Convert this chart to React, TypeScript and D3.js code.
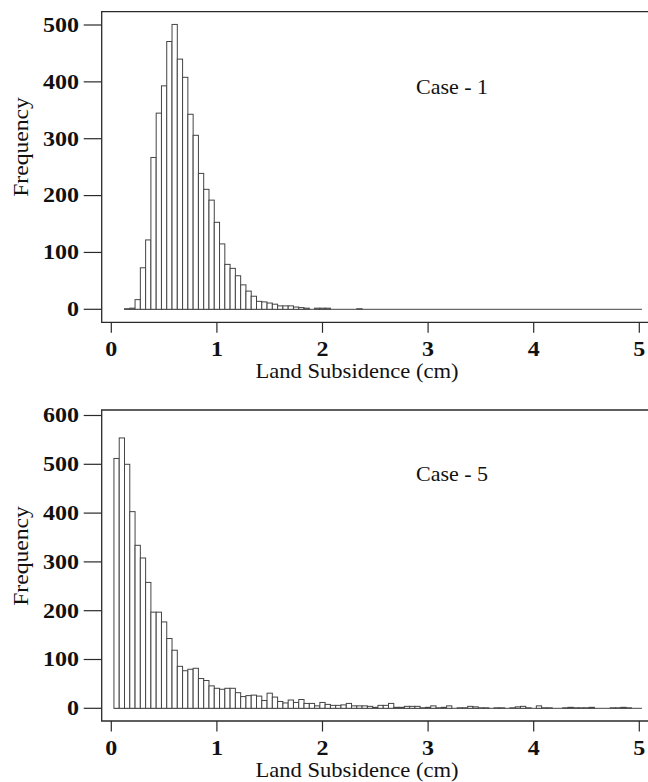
import React, { useEffect, useRef } from 'react';
import * as d3 from 'd3';

// histogram bins are 0.05 cm wide
const binWidth = 0.05;

// Case - 1: first bin starts at 0.125 cm
const case1Start = 0.125;
const case1Counts = [
  1, 2, 17, 73, 122, 267, 345, 393, 471, 501,
  440, 408, 343, 306, 239, 211, 192, 153, 115, 79,
  72, 59, 43, 32, 23, 14, 13, 11, 9, 6,
  6, 6, 4, 3, 2, 0, 2, 2, 2, 0,
  0, 0, 0, 0, 1, 0, 0, 0, 0, 0,
  0, 0, 0, 0, 0, 0, 0, 0, 0, 0,
  0, 0, 0, 0, 0, 0, 0, 0, 0, 0,
  0, 0, 0, 0, 0, 0, 0, 0, 0, 0,
  0, 0, 0, 0, 0, 0, 0, 0, 0, 0,
  0, 0, 0, 0, 0, 0, 0, 0,
];

// Case - 5: first bin starts at 0.025 cm
const case5Start = 0.025;
const case5Counts = [
  512, 554, 500, 403, 334, 308, 258, 197, 197, 177,
  143, 119, 86, 77, 80, 82, 61, 57, 46, 41,
  39, 41, 41, 32, 24, 26, 27, 25, 16, 31,
  23, 14, 11, 17, 12, 18, 10, 10, 5, 12,
  8, 6, 6, 7, 10, 5, 5, 5, 4, 2,
  6, 6, 10, 2, 2, 4, 4, 4, 1, 2,
  5, 1, 2, 5, 0, 1, 1, 4, 3, 1,
  1, 0, 1, 1, 0, 1, 3, 4, 1, 0,
  5, 1, 1, 0, 0, 1, 2, 1, 1, 1,
  2, 0, 0, 0, 1, 1, 2, 1, 0, 0,
];

const xTicks = [0, 1, 2, 3, 4, 5];
const case1YTicks = [0, 100, 200, 300, 400, 500];
const case5YTicks = [0, 100, 200, 300, 400, 500, 600];

const xTitle = 'Land Subsidence (cm)';
const yTitle = 'Frequency';

function App() {
  const svgRef = useRef<SVGSVGElement>(null);

  useEffect(() => {
    const svg = d3.select(svgRef.current);
    svg.selectAll('*').remove();

    const width = 648;
    const height = 782;
    svg.attr('width', width).attr('height', height);

    const font = '"Liberation Serif", "Times New Roman", serif';
    const ink = '#2a2a2a';
    const left = 101.7;

    const x = d3.scaleLinear().domain([0, 5]).range([111.3, 639.3]);

    const panels = [
      {
        label: 'Case - 1', counts: case1Counts, start: case1Start, ticks: case1YTicks,
        top: 11.7, axisY: 322.3, labelY: 94, freqY: 147,
        y: d3.scaleLinear().domain([0, 500]).range([309.3, 25]),
      },
      {
        label: 'Case - 5', counts: case5Counts, start: case5Start, ticks: case5YTicks,
        top: 410, axisY: 721, labelY: 481, freqY: 556,
        y: d3.scaleLinear().domain([0, 600]).range([708.3, 415.5]),
      },
    ];

    panels.forEach(p => {
      const g = svg.append('g');
      const y = p.y;
      const bins = p.counts.map((c, i) => ({
        x0: p.start + i * binWidth,
        x1: p.start + (i + 1) * binWidth,
        c,
      }));

      // zero-count bins show up as the base line
      g.append('line')
        .attr('x1', x(bins[0].x0)).attr('x2', x(bins[bins.length - 1].x1))
        .attr('y1', y(0)).attr('y2', y(0))
        .attr('stroke', '#444').attr('stroke-width', 1);

      g.selectAll('rect.bar')
        .data(bins.filter(b => b.c > 0))
        .join('rect')
        .attr('class', 'bar')
        .attr('x', d => x(d.x0))
        .attr('width', d => x(d.x1) - x(d.x0))
        .attr('y', d => y(d.c))
        .attr('height', d => y(0) - y(d.c))
        .attr('fill', 'white')
        .attr('stroke', '#444')
        .attr('stroke-width', 1);

      // frame: top, left, bottom
      g.append('path')
        .attr('d', `M${width},${p.top}H${left}V${p.axisY}H${width}`)
        .attr('fill', 'none')
        .attr('stroke', ink)
        .attr('stroke-width', 1.3);

      // y ticks
      p.ticks.forEach(t => {
        g.append('line')
          .attr('x1', left - 18).attr('x2', left)
          .attr('y1', y(t)).attr('y2', y(t))
          .attr('stroke', ink).attr('stroke-width', 1.2);
        g.append('text')
          .attr('transform', `translate(79,${y(t) + 6.8}) scale(1.2,1)`)
          .attr('text-anchor', 'end')
          .attr('font-family', font)
          .attr('font-size', 20)
          .attr('font-weight', 'bold')
          .attr('fill', '#111')
          .text(t);
      });

      // x ticks
      xTicks.forEach(t => {
        g.append('line')
          .attr('x1', x(t)).attr('x2', x(t))
          .attr('y1', p.axisY).attr('y2', p.axisY + 10.5)
          .attr('stroke', ink).attr('stroke-width', 1.2);
        g.append('text')
          .attr('transform', `translate(${x(t)},${p.axisY + 34}) scale(1.2,1)`)
          .attr('text-anchor', 'middle')
          .attr('font-family', font)
          .attr('font-size', 20)
          .attr('font-weight', 'bold')
          .attr('fill', '#111')
          .text(t);
      });

      g.append('text')
        .attr('transform', `translate(357,${p.axisY + 55.5}) scale(1.13,1)`)
        .attr('text-anchor', 'middle')
        .attr('font-family', font)
        .attr('font-size', 20)
        .attr('fill', '#111')
        .text(xTitle);

      g.append('text')
        .attr('transform', `translate(28,${p.freqY}) rotate(-90) scale(1.18,1)`)
        .attr('text-anchor', 'middle')
        .attr('font-family', font)
        .attr('font-size', 20)
        .attr('fill', '#111')
        .text(yTitle);

      g.append('text')
        .attr('transform', `translate(416,${p.labelY}) scale(1.1,1)`)
        .attr('font-family', font)
        .attr('font-size', 20)
        .attr('fill', '#111')
        .text(p.label);
    });
  }, []);

  return (
    <svg ref={svgRef} style={{ position: 'absolute', left: 0, top: 0, background: 'white' }}></svg>
  );
}

export default App;
